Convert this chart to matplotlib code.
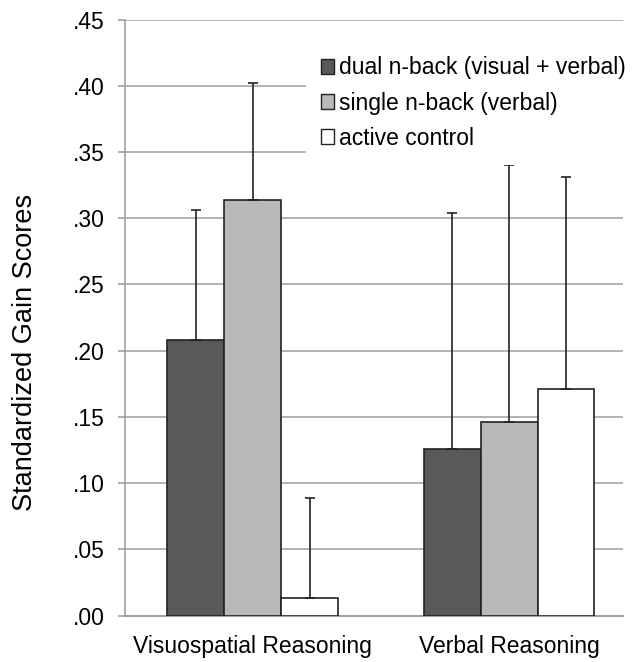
import numpy as np
import matplotlib
matplotlib.use("Agg")
import matplotlib.pyplot as plt
from matplotlib.patches import Patch

plt.rcParams["font.family"] = ["Liberation Sans", "DejaVu Sans"]

categories = ["Visuospatial Reasoning", "Verbal Reasoning"]
groups = ["dual n-back (visual + verbal)", "single n-back (verbal)", "active control"]
means = {
    "dual n-back (visual + verbal)": [0.208, 0.126],
    "single n-back (verbal)": [0.314, 0.146],
    "active control": [0.013, 0.171],
}
upper = {
    "dual n-back (visual + verbal)": [0.306, 0.304],
    "single n-back (verbal)": [0.402, 0.340],
    "active control": [0.089, 0.331],
}
colors = ["#595959", "#b9b9b9", "#ffffff"]
yticks = [0.0, 0.05, 0.10, 0.15, 0.20, 0.25, 0.30, 0.35, 0.40, 0.45]

fig = plt.figure(figsize=(6.35, 6.62), dpi=100)
ax = fig.add_axes([0.197, 0.0702, 0.784, 0.9003])

x = np.arange(len(categories))
width = 0.222
for i, g in enumerate(groups):
    pos = x + (i - 1) * width
    vals = np.array(means[g])
    err = np.array(upper[g]) - vals
    ax.bar(pos, vals, width, color=colors[i], edgecolor="#222222", linewidth=1.2, zorder=3)
    ax.errorbar(pos, vals, yerr=[np.zeros_like(err), err], fmt="none",
                ecolor="#222222", elinewidth=1.2, capsize=3.6, capthick=1.2, zorder=4)

ax.set_xlim(-0.497, 1.444)
ax.set_ylim(0, 0.45)
ax.set_yticks(yticks)
ax.set_yticklabels([("%.2f" % v)[1:] for v in yticks], fontsize=16.5)
ax.set_xticks(x)
ax.set_xticklabels(categories, fontsize=16.5)
ax.tick_params(axis="x", length=0, pad=14)
ax.tick_params(axis="y", length=5, width=1.2, color="#a0a0a0", pad=10)
ax.yaxis.grid(True, color="#a6a6a6", linewidth=1.2, zorder=0)
ax.set_axisbelow(True)
for s in ["top", "right"]:
    ax.spines[s].set_visible(False)
ax.spines["left"].set_color("#a0a0a0")
ax.spines["left"].set_linewidth(1.2)
ax.spines["bottom"].set_color("#a0a0a0")
ax.spines["bottom"].set_linewidth(1.5)
ax.set_ylabel("Standardized Gain Scores", fontsize=19.5, labelpad=25, y=0.442)

handles = [Patch(facecolor=c, edgecolor="#222222", linewidth=1.0) for c in colors]
leg = ax.legend(handles, groups, loc="upper left", bbox_to_anchor=(0.363, 0.963),
                fontsize=16.5, frameon=True, framealpha=1, edgecolor="none",
                fancybox=False, handlelength=0.6, handleheight=0.6, handletextpad=0.2,
                labelspacing=0.53, borderpad=0.65, borderaxespad=0)
leg.set_zorder(5)

fig.savefig("out.png", dpi=100)
